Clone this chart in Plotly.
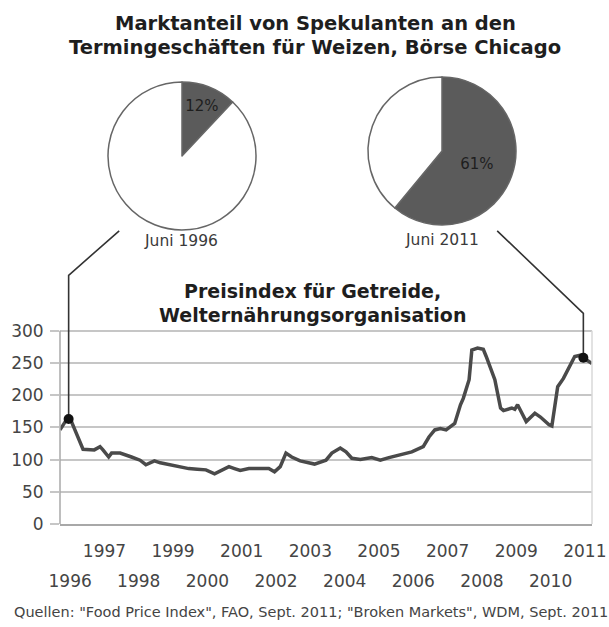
import plotly.graph_objects as go

# ---------------- data ----------------
dates = [
    "1996-03-15", "1996-05-15", "1996-06-15", "1996-07-15", "1996-08-15", "1996-10-15", "1996-11-15",
    "1997-03-15", "1997-05-15", "1997-06-15", "1997-08-15", "1997-09-15", "1997-12-15",
    "1998-04-15", "1998-07-15", "1998-09-15", "1998-10-15", "1998-12-15",
    "1999-02-15", "1999-05-15", "1999-08-15", "1999-12-15",
    "2000-03-15", "2000-06-15", "2000-09-15", "2000-11-15",
    "2001-02-15", "2001-04-15", "2001-06-15", "2001-09-15", "2001-12-15",
    "2002-04-15", "2002-06-15", "2002-08-15", "2002-10-15", "2002-12-15",
    "2003-03-15", "2003-08-15", "2003-12-15",
    "2004-02-15", "2004-05-15", "2004-07-15", "2004-09-15", "2004-12-15",
    "2005-04-15", "2005-07-15", "2005-10-15",
    "2006-02-15", "2006-06-15", "2006-10-15", "2006-12-15",
    "2007-02-15", "2007-04-15", "2007-06-15", "2007-09-15", "2007-11-15", "2007-12-15",
    "2008-02-15", "2008-03-15", "2008-05-15", "2008-07-15", "2008-08-15", "2008-11-15",
    "2009-01-15", "2009-02-15", "2009-05-15", "2009-06-15", "2009-07-15", "2009-10-15",
    "2010-01-15", "2010-03-15", "2010-06-15", "2010-07-15", "2010-09-15", "2010-11-15",
    "2011-03-15", "2011-05-15", "2011-06-15", "2011-09-15",
]
index_values = [
    146, 160, 163, 159, 148, 125, 116,
    115, 120, 115, 104, 110, 110,
    104, 99, 92, 94, 98,
    95, 92, 89, 86,
    85, 84, 78, 83,
    89, 86, 83, 86, 86,
    86, 81, 89, 110, 104,
    98, 93, 99,
    110, 118, 112, 102, 100,
    103, 99, 103,
    107, 112, 120, 135,
    146, 148, 146, 156, 185, 195,
    224, 270, 273, 271, 260, 224,
    180, 176, 180, 178, 185, 159,
    172, 166, 154, 152, 213, 226,
    260, 262, 258, 249,
]

pie_labels = ["Spekulanten", "Andere Marktteilnehmer"]
share_1996 = [12, 88]
share_2011 = [61, 39]
pie_titles = ["Juni 1996", "Juni 2011"]
marker_dates = ["1996-06-15", "2011-06-15"]

years = list(range(1996, 2012))
y_ticks = [0, 50, 100, 150, 200, 250, 300]

title_lines = ["Marktanteil von Spekulanten an den",
               "Termingeschäften für Weizen, Börse Chicago"]
subtitle_lines = ["Preisindex für Getreide,", "Welternährungsorganisation"]
source_text = ('Quellen: "Food Price Index", FAO, Sept. 2011; '
               '"Broken Markets", WDM, Sept. 2011')

# ---------------- layout geometry ----------------
W, H = 609, 627
FONT = "DejaVu Sans"
x_dom = [60 / W, 592 / W]
y_dom = [1 - 524 / H, 1 - 227.6 / H]
y_range = [0, 460]
x_range = ["1996-03-15", "2011-09-15"]

def py(p):
    return 1 - p / H

fig = go.Figure()

# main line
fig.add_trace(go.Scatter(
    x=dates, y=index_values, mode="lines",
    line=dict(color="#4a4a4a", width=3.5),
    hoverinfo="skip", showlegend=False,
))

# markers at the pie dates + connectors
mk_vals = [index_values[dates.index(d)] for d in marker_dates]
conn_pts = [
    (["1997-12-05", "1996-06-15", "1996-06-15"], [455, 386, mk_vals[0]]),
    (["2008-12-10", "2011-06-15", "2011-06-15"], [455, 327, mk_vals[1]]),
]
for cx, cy in conn_pts:
    fig.add_trace(go.Scatter(x=cx, y=cy, mode="lines",
                             line=dict(color="#333333", width=1.6),
                             hoverinfo="skip", showlegend=False))
fig.add_trace(go.Scatter(
    x=marker_dates, y=mk_vals, mode="markers",
    marker=dict(color="#111111", size=10),
    hoverinfo="skip", showlegend=False,
))
# empty trace for second (even-year label) axis
fig.add_trace(go.Scatter(x=[], y=[], xaxis="x2", yaxis="y",
                         showlegend=False, hoverinfo="skip"))

# pies
pie_common = dict(
    sort=False, direction="clockwise", rotation=0,
    marker=dict(colors=["#5b5b5b", "#ffffff"], line=dict(color="#666666", width=1.5)),
    textinfo="text", textposition="inside", insidetextorientation="horizontal",
    textfont=dict(family=FONT, size=15, color="#1e1e1e"),
    hoverinfo="skip", showlegend=False,
)
fig.add_trace(go.Pie(labels=pie_labels, values=share_1996,
                     text=[f"{share_1996[0]}%", ""],
                     domain=dict(x=[108 / W, 256 / W], y=[py(230), py(82)]),
                     **pie_common))
fig.add_trace(go.Pie(labels=pie_labels, values=share_2011,
                     text=[f"{share_2011[0]}%", ""],
                     domain=dict(x=[368 / W, 516 / W], y=[py(225), py(77)]),
                     **pie_common))

tick_font = dict(family=FONT, size=17, color="#454545")
fig.update_layout(
    width=W, height=H, margin=dict(l=0, r=0, t=0, b=0, autoexpand=False),
    paper_bgcolor="white", plot_bgcolor="white",
    font=dict(family=FONT),
    xaxis=dict(
        domain=x_dom, range=x_range, type="date", automargin=False,
        tickvals=[f"{y}-07-01" for y in years if y % 2 == 1],
        ticktext=[str(y) for y in years if y % 2 == 1],
        tickfont=tick_font, ticks="", ticklabelstandoff=11,
        showgrid=False, showline=True, linecolor="#a8a8a8", linewidth=1.5,
        zeroline=False,
    ),
    xaxis2=dict(
        overlaying="x", anchor="y", side="bottom", range=x_range, type="date",
        automargin=False,
        tickvals=[f"{y}-07-01" for y in years if y % 2 == 0],
        ticktext=[str(y) for y in years if y % 2 == 0],
        tickfont=tick_font, ticks="", ticklabelstandoff=45,
        showgrid=False, showline=False, zeroline=False,
    ),
    yaxis=dict(
        domain=y_dom, range=y_range, tickvals=y_ticks, automargin=False,
        tickfont=tick_font, ticks="outside", ticklen=9, tickwidth=2,
        tickcolor="#c6c6c6", showgrid=True, gridcolor="#c6c6c6", gridwidth=2,
        showline=False, zeroline=False, ticklabelstandoff=3,
    ),
    shapes=[
        dict(type="line", xref="x domain", yref="y", x0=0, x1=0, y0=0, y1=300,
             line=dict(color="#a8a8a8", width=1.5)),
        dict(type="line", xref="x domain", yref="y", x0=1, x1=1, y0=0, y1=300,
             line=dict(color="#d8d8d8", width=1.5)),
    ],
)

ann = []
for txt, p in zip(title_lines, [23, 47]):
    ann.append(dict(text=f"<b>{txt}</b>", x=315 / W, y=py(p), xref="paper", yref="paper",
                    showarrow=False, font=dict(family=FONT, size=19.5, color="#1e1e1e"),
                    xanchor="center", yanchor="middle"))
for txt, p in zip(subtitle_lines, [291, 315]):
    ann.append(dict(text=f"<b>{txt}</b>", x=312 / W, y=py(p), xref="paper", yref="paper",
                    showarrow=False, font=dict(family=FONT, size=19, color="#1e1e1e"),
                    xanchor="center", yanchor="middle"))
for txt, (cx, p) in zip(pie_titles, [(181, 241), (442, 240)]):
    ann.append(dict(text=txt, x=cx / W, y=py(p), xref="paper", yref="paper",
                    showarrow=False, font=dict(family=FONT, size=15.5, color="#3a3a3a"),
                    xanchor="center", yanchor="middle"))
ann.append(dict(text=source_text, x=311 / W, y=py(612), xref="paper", yref="paper",
                showarrow=False, font=dict(family=FONT, size=14.5, color="#444444"),
                xanchor="center", yanchor="middle"))
fig.update_layout(annotations=ann)

fig.write_html("out.html")
